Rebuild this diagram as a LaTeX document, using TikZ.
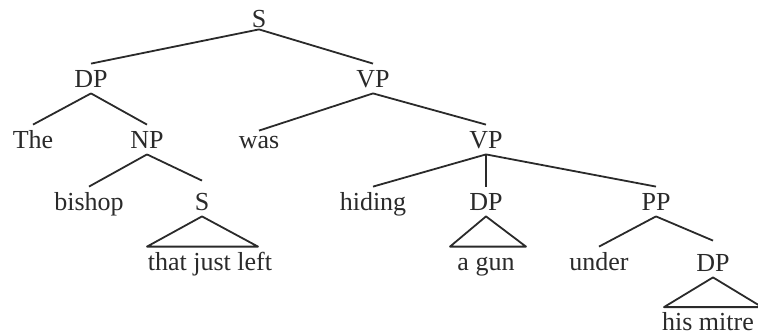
\documentclass[tikz,border=0pt]{standalone}
\usepackage{fontspec}
\setmainfont{Liberation Serif}
\usepackage{tikz}
\usetikzlibrary{calc}
\definecolor{ink}{HTML}{2A2A2A}
\begin{document}
\begin{tikzpicture}[x=1pt,y=-1pt,color=ink,line width=1.8pt,
    cat/.style={anchor=base, font=\fontsize{26}{30}\selectfont, inner sep=5.5pt, text height=17pt, text depth=0pt}]
            \useasboundingbox (0,0) rectangle (758,335);
            % labels
            \node [cat] (s) at (259,27) {S};
            \node [cat] (dp) at (91,87) {DP};
            \node [cat] (vp) at (373,87) {VP};
            \node [cat] (the) at (33,148) {The};
            \node [cat] (np) at (147,148) {NP};
            \node [cat] (was) at (259,148) {was};
            \node [cat] (vpb) at (486,148) {VP};
            \node [cat] (bishop) at (89,210) {bishop};
            \node [cat] (sb) at (202,210) {S};
            \node [cat] (hiding) at (373,210) {hiding};
            \node [cat] (dpb) at (486,210) {DP};
            \node [cat] (pp) at (656,210) {PP};
            \node [cat] (that) at (210,270) {that just left};
            \node [cat] (gun) at (486,270) {a gun};
            \node [cat] (under) at (599,270) {under};
            \node [cat] (dpc) at (713,271) {DP};
            \node [cat, inner sep=2pt] (mitre) at (708,330) {his mitre};
            % branches
            \draw ([yshift=4pt]s.south) -- (dp.north);
            \draw ([yshift=4pt]s.south) -- (vp.north);
            \draw (dp.south) -- (the.north);
            \draw (dp.south) -- (np.north);
            \draw (vp.south) -- ([yshift=-6pt]was.north);
            \draw (vp.south) -- (vpb.north);
            \draw (np.south) -- (bishop.north);
            \draw (np.south) -- ([yshift=6pt]sb.north);
            \draw (vpb.south) -- (hiding.north);
            \draw (vpb.south) -- (dpb.north);
            \draw (vpb.south) -- (pp.north);
            \draw (pp.south) -- (under.north);
            \draw (pp.south) -- ([yshift=7pt]dpc.north);
            % roofs
            \draw [line join=round] (sb.south) -- ($(sb.south |- that.north)+(-55,0)$) -- ($(sb.south |- that.north)+(56,0)$) -- cycle;
            \draw [line join=round] (dpb.south) -- ($(dpb.south |- gun.north)+(-36,0)$) -- ($(dpb.south |- gun.north)+(40,0)$) -- cycle;
            \draw [line join=round] (dpc.south) -- ($(dpc.south |- mitre.north)+(-49,-3)$) -- ($(dpc.south |- mitre.north)+(49,-3)$) -- cycle;
        \end{tikzpicture}
\end{document}
